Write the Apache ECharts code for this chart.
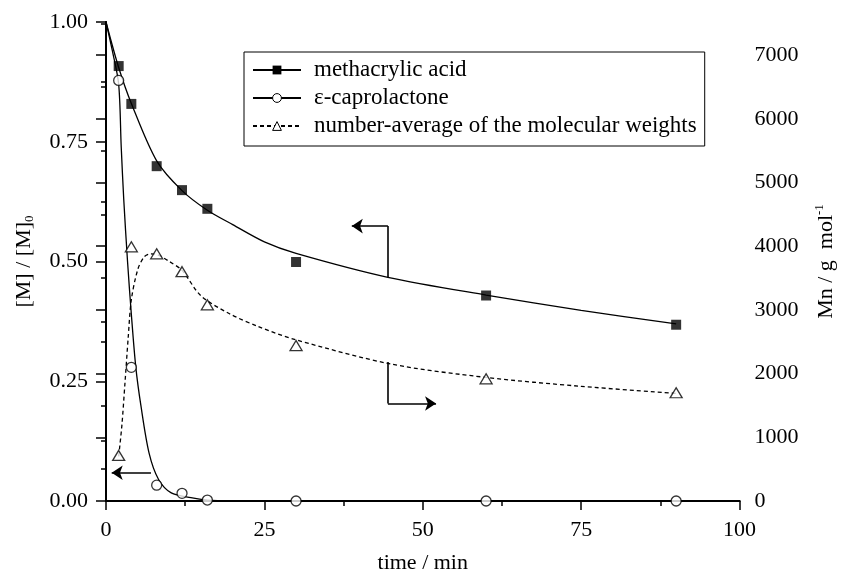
<!DOCTYPE html>
<html>
<head>
<meta charset="utf-8">
<script src="https://cdn.jsdelivr.net/npm/echarts@6/dist/echarts.min.js"></script>
<style>
	html, body { margin: 0; padding: 0; background: #fff; overflow: hidden; }
	#chartmain { width: 845px; height: 579px; }
</style>
</head>
<body>
<div id="chartmain"></div>
<script>
// measured points (time / min)
var times = [2, 4, 8, 12, 16, 30, 60, 90];
var acidVals = [0.908, 0.829, 0.699, 0.649, 0.61, 0.499, 0.429, 0.368];
var caproVals = [0.878, 0.279, 0.033, 0.016, 0.002, 0, 0, 0];
var mnVals = [716, 3990, 3880, 3600, 3080, 2440, 1918, 1699];

// fitted curves
var acidFitT = [0, 2, 4, 8, 12, 16, 20, 25, 30, 44.5, 60, 75, 90];
var acidFitV = [1.0, 0.905, 0.83, 0.71, 0.648, 0.607, 0.577, 0.541, 0.517, 0.467, 0.43, 0.398, 0.37];
var caproFitT = [0, 1, 2, 2.4, 2.8, 3.4, 4, 4.7, 5.5, 6.8, 8.3, 10.3, 13.4, 16, 20];
var caproFitV = [1.0, 0.94, 0.87, 0.74, 0.63, 0.5, 0.39, 0.28, 0.2, 0.10, 0.045, 0.017, 0.007, 0.002, 0];
var mnFitT = [2, 2.5, 3, 3.5, 4, 5, 6, 7, 8, 10, 12, 15, 19.5, 24, 30, 45, 60, 75, 90];
var mnFitV = [700, 1180, 1860, 2560, 3160, 3630, 3830, 3880, 3870, 3760, 3620, 3220, 2940, 2740, 2530, 2150, 1940, 1800, 1690];

var xTicks = [0, 25, 50, 75, 100];
var names = ['methacrylic acid', 'ε-caprolactone', 'number-average of the molecular weights'];

function pairs(xs, ys) {
	var out = [];
	for (var i = 0; i < xs.length; i++) {
		out.push([xs[i], ys[i]]);
	}
	return out;
}

var font = "'Liberation Serif', 'Times New Roman', serif";
var ink = '#000';

var axisBase = {
	axisLine: { show: true, lineStyle: { color: ink, width: 2 } },
	splitLine: { show: false },
	minorTick: { show: true, splitNumber: 2, length: 5, lineStyle: { color: ink, width: 1.5 } },
	axisTick: { show: true, length: 10, lineStyle: { color: ink, width: 1.5 } },
	axisLabel: { color: ink, fontFamily: font, fontSize: 22 }
};

function merge(a, b) {
	return Object.assign({}, a, b);
}

// arrow pieces: plain segment, then segment with head at its end
function seg(a, b) {
	return [{ coord: a, symbol: 'none' }, { coord: b, symbol: 'none' }];
}
function arrow(a, b) {
	return [{ coord: a, symbol: 'none' }, { coord: b, symbol: 'arrow', symbolSize: 11 }];
}

var option = {
	animation: false,
	backgroundColor: '#fff',
	textStyle: { fontFamily: font, color: ink },
	grid: { left: 106, right: 95, top: 22, bottom: 77, containLabel: false },
	legend: {
		orient: 'vertical',
		left: 244,
		top: 52,
		padding: [6, 8, 8, 8],
		itemGap: 4,
		itemWidth: 48,
		itemHeight: 11,
		borderColor: ink,
		borderWidth: 1,
		textStyle: { fontFamily: font, fontSize: 23, color: ink, lineHeight: 24, padding: [0, 0, 0, 8] },
		data: [
			{ name: names[0] },
			{ name: names[1], itemStyle: { color: '#fff', borderColor: ink, borderWidth: 1 } },
			{ name: names[2], itemStyle: { color: '#fff', borderColor: ink, borderWidth: 1 } }
		]
	},
	xAxis: [
		merge(axisBase, {
			type: 'value', position: 'bottom', min: 0, max: 100, interval: 25,
			axisTick: { show: true, length: 9, lineStyle: { color: ink, width: 1.5 } },
			axisLabel: { color: ink, fontFamily: font, fontSize: 22, margin: 18,
				formatter: function (v) { return xTicks.indexOf(v) >= 0 ? String(v) : ''; } },
			name: 'time / min', nameLocation: 'middle', nameGap: 51,
			nameTextStyle: { fontFamily: font, fontSize: 22, color: ink }
		}),
		merge(axisBase, {
			type: 'value', position: 'top', min: 0, max: 100, interval: 25,
			axisTick: { show: true, inside: true, length: 9, lineStyle: { color: ink, width: 1.5 } },
			minorTick: { show: true, splitNumber: 2, length: 5, lineStyle: { color: ink, width: 1.5 } },
			axisLabel: { show: false }
		})
	],
	yAxis: [
		merge(axisBase, {
			type: 'value', position: 'left', min: 0, max: 1, interval: 0.25,
			axisLabel: { color: ink, fontFamily: font, fontSize: 22, margin: 18,
				formatter: function (v) { return v.toFixed(2); } },
			name: '[M] / [M]{sub|0}', nameLocation: 'middle', nameGap: 70,
			nameTextStyle: { fontFamily: font, fontSize: 22, color: ink,
				rich: { sub: { fontFamily: font, fontSize: 13, color: ink, padding: [10, 0, 0, 0] } } }
		}),
		merge(axisBase, {
			type: 'value', position: 'right', min: 0, max: 7520, interval: 1000,
			axisTick: { show: true, inside: true, length: 10, lineStyle: { color: ink, width: 1.5 } },
			minorTick: { show: true, splitNumber: 2, length: 5, lineStyle: { color: ink, width: 1.5 } },
			axisLabel: { color: ink, fontFamily: font, fontSize: 22, margin: 15,
				formatter: function (v) { return v % 1000 === 0 ? String(v) : ''; } },
			name: 'Mn / g  mol{sup|-1}', nameLocation: 'middle', nameGap: 74,
			nameTextStyle: { fontFamily: font, fontSize: 22, color: ink,
				rich: { sup: { fontFamily: font, fontSize: 13, color: ink, padding: [0, 0, 12, 0] } } }
		})
	],
	series: [
		{
			name: names[0], type: 'line', smooth: 0.3,
			symbol: 'rect', showSymbol: false, color: ink,
			lineStyle: { color: ink, width: 1.3 },
			data: pairs(acidFitT, acidFitV), z: 2, silent: true,
			markLine: {
				silent: true, symbol: 'none', symbolSize: 11,
				label: { show: false },
				lineStyle: { color: ink, width: 1.6, type: 'solid' },
				itemStyle: { color: ink },
				emphasis: { disabled: true },
				data: [
					seg([44.5, 0.467], [44.5, 0.574]),
					arrow([44.5, 0.574], [38.8, 0.574]),
					seg([44.5, 0.29], [44.5, 0.2035]),
					arrow([44.5, 0.2035], [52.1, 0.2035]),
					arrow([7.1, 0.059], [0.9, 0.059])
				]
			}
		},
		{
			name: names[1], type: 'line', smooth: 0.3,
			symbol: 'circle', showSymbol: false, color: ink,
			lineStyle: { color: ink, width: 1.3 },
			data: pairs(caproFitT, caproFitV), z: 2, silent: true
		},
		{
			name: names[2], type: 'line', yAxisIndex: 1, smooth: 0.3,
			symbol: 'triangle', showSymbol: false, color: ink,
			lineStyle: { color: ink, width: 1.3, type: [4, 3] },
			data: pairs(mnFitT, mnFitV), z: 2, silent: true
		},
		{
			name: names[0], type: 'scatter', symbol: 'rect', symbolSize: 10,
			itemStyle: { color: ink }, data: pairs(times, acidVals), z: 5, silent: true
		},
		{
			name: names[1], type: 'scatter', symbol: 'circle', symbolSize: 10,
			itemStyle: { color: '#fff', borderColor: ink, borderWidth: 1.3 },
			data: pairs(times, caproVals), z: 5, silent: true
		},
		{
			name: names[2], type: 'scatter', yAxisIndex: 1, symbol: 'triangle', symbolSize: [12, 10],
			itemStyle: { color: '#fff', borderColor: ink, borderWidth: 1.3 },
			data: pairs(times, mnVals), z: 5, silent: true
		}
	]
};

var myChart = echarts.init(document.getElementById('chartmain'));
myChart.setOption(option);
</script>
</body>
</html>
